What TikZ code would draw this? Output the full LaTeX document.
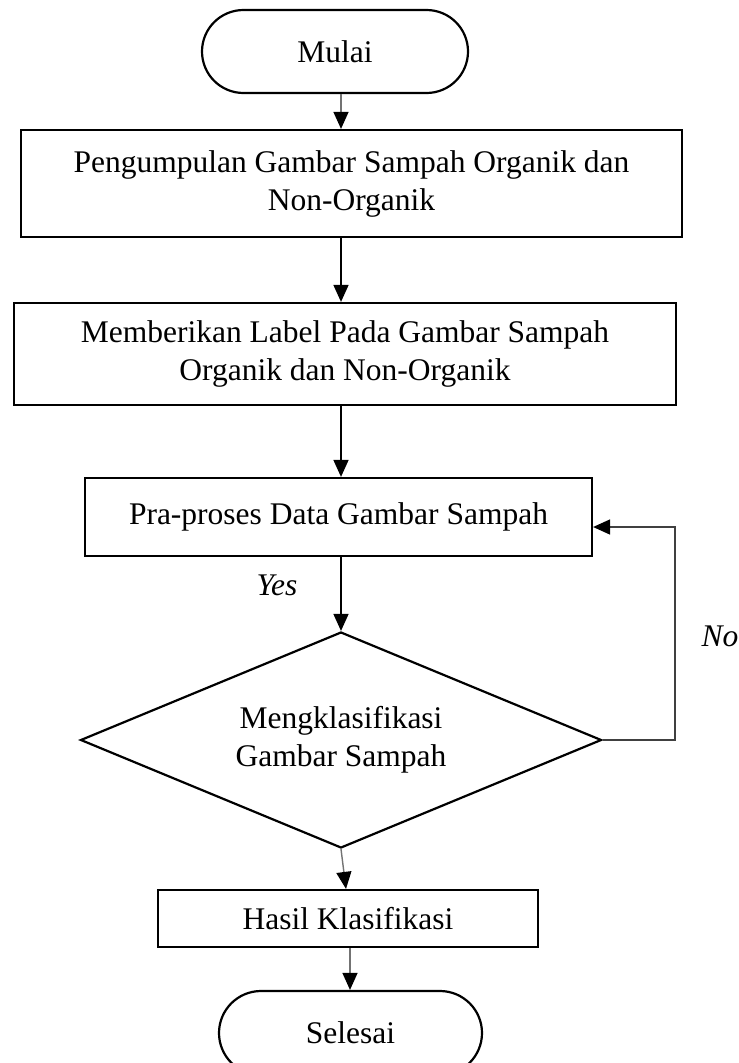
\documentclass[tikz,border=0pt]{standalone}
\usepackage{fontspec}
\setmainfont{Liberation Serif}
\usetikzlibrary{shapes.geometric,shapes.misc,arrows.meta}

\begin{document}
\begin{tikzpicture}[x=1pt,y=-1pt,
  every node/.style={font=\fontsize{31.5}{38}\selectfont, align=center, inner sep=0pt},
  terminal/.style={rounded rectangle, draw, line width=2.2pt},
  procbox/.style={rectangle, draw, line width=2.2pt},
  decision/.style={diamond, aspect=2.4, draw, line width=2.2pt},
  flow/.style={line width=1.6pt, -{Triangle[length=17pt,width=15pt]}},
  softflow/.style={line width=1.4pt, draw=black!55, -{Triangle[length=17pt,width=15pt,color=black]}},
  loopflow/.style={line width=1.6pt, draw=black!75, -{Triangle[length=17pt,width=15pt,color=black]}},
  tag/.style={font=\itshape\fontsize{31.5}{38}\selectfont}
]
\useasboundingbox (0,0) rectangle (739,1063);

% process steps
\node[terminal, minimum width=266pt, minimum height=83pt] (mulai) at (335,51.5) {Mulai};
\node[procbox, minimum width=661pt, minimum height=107pt] (kumpul) at (351.5,183.5)
  {Pengumpulan Gambar Sampah Organik dan\\Non-Organik};
\node[procbox, minimum width=662pt, minimum height=102pt] (label) at (345,354)
  {Memberikan Label Pada Gambar Sampah\\Organik dan Non-Organik};
\node[procbox, minimum width=507pt, minimum height=78pt] (praproses) at (338.5,517)
  {Pra-proses Data Gambar Sampah};
\node[decision, minimum width=521pt, minimum height=216pt] (klasifikasi) at (341,740)
  {Mengklasifikasi\\Gambar Sampah};
\node[procbox, minimum width=380pt, minimum height=57pt] (hasil) at (348,918.5)
  {Hasil Klasifikasi};
\node[terminal, minimum width=263pt, minimum height=84pt] (selesai) at (350.5,1033)
  {Selesai};

% connectors
\draw[softflow] (mulai.south -| 341,0) -- (kumpul.north -| 341,0);
\draw[flow] (kumpul.south -| 341,0) -- (label.north -| 341,0);
\draw[flow] (label.south -| 341,0) -- (praproses.north -| 341,0);
\draw[flow] (praproses.south -| klasifikasi.north) -- (klasifikasi.north);
\draw[softflow] (klasifikasi.south) -- (hasil.north -| 346,0);
\draw[softflow] (hasil.south -| 350,0) -- (selesai.north -| 350,0);

% feedback loop
\coordinate (loopbend) at (675,740);
\draw[loopflow] (klasifikasi.east) -- (loopbend) -- (loopbend |- 0,527) -- (praproses.east |- 0,527);

% branch labels
\node[tag] (yes) at (277,585) {Yes};
\node[tag] (no) at (720,636) {No};
\end{tikzpicture}
\end{document}
